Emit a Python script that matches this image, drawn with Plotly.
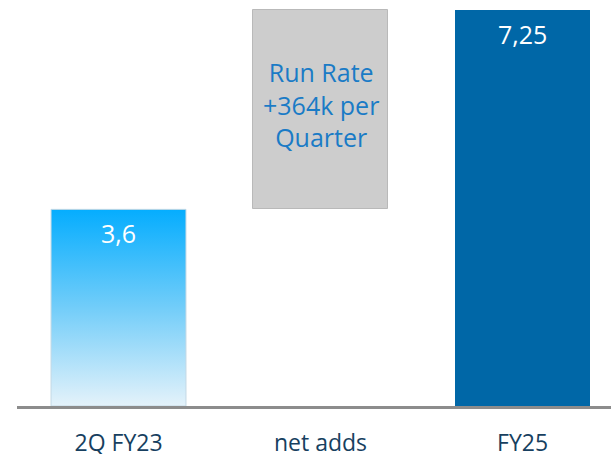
import plotly.graph_objects as go

categories = ["2Q FY23", "net adds", "FY25"]
start_value = 3.6
end_value = 7.25
value_labels = ["3,6", "7,25"]
note_lines = ["Run Rate", "+364k per", "Quarter"]

x_pos = [0, 1, 2]
bar_w = 0.668
font = "Open Sans"

fig = go.Figure()

# 1) start bar with vertical gradient fill
x0 = x_pos[0]
fig.add_trace(go.Scatter(
    x=[x0 - bar_w / 2, x0 + bar_w / 2, x0 + bar_w / 2, x0 - bar_w / 2, x0 - bar_w / 2],
    y=[0, 0, start_value, start_value, 0],
    mode="lines", fill="toself",
    line=dict(color="#c4d8e4", width=1),
    fillgradient=dict(type="vertical",
                      colorscale=[[0, "#e4f2fa"], [0.5, "#72cdf9"], [1, "#05adfe"]]),
    hoverinfo="skip", showlegend=False,
))

# 2) net adds floating bar
fig.add_trace(go.Bar(
    x=[x_pos[1]], y=[end_value - start_value], base=[start_value],
    width=bar_w, marker=dict(color="#cdcdcd", line=dict(color="#b9b9b9", width=1)),
    showlegend=False, hoverinfo="skip",
))

# 3) end bar
fig.add_trace(go.Bar(
    x=[x_pos[2]], y=[end_value], width=bar_w,
    marker=dict(color="#0067a7", line=dict(width=0)),
    showlegend=False, hoverinfo="skip",
))

annotations = [
    dict(x=x_pos[0], y=start_value, text=value_labels[0], showarrow=False,
         yanchor="middle", yshift=-24, font=dict(family=font, size=25, color="white")),
    dict(x=x_pos[2], y=end_value, text=value_labels[1], showarrow=False,
         yanchor="middle", yshift=-24, font=dict(family=font, size=25, color="white")),
    dict(x=x_pos[1], y=(start_value + end_value) / 2, text="<br>".join(note_lines),
         showarrow=False, yanchor="middle", yshift=5,
         font=dict(family=font, size=25, color="#1a7bc6")),
]

fig.update_layout(
    width=611, height=454,
    margin=dict(l=17, r=0, t=0, b=47.5, autoexpand=False),
    paper_bgcolor="white", plot_bgcolor="white",
    bargap=0,
    annotations=annotations,
    xaxis=dict(range=[-0.5025, 2.438], tickvals=x_pos, ticktext=categories,
               automargin=False,
               showgrid=False, zeroline=False, showline=True, linecolor="#8c8c8c",
               linewidth=3, ticks="", ticklabelstandoff=14,
               tickfont=dict(family=font, size=23, color="#173f5f")),
    yaxis=dict(range=[0, 7.433], visible=False, automargin=False,
               showgrid=False, zeroline=False),
)

fig.write_html(
    "out.html",
    config={"displayModeBar": False},
    post_script="document.body.style.margin='0';document.body.style.overflow='hidden';",
)
